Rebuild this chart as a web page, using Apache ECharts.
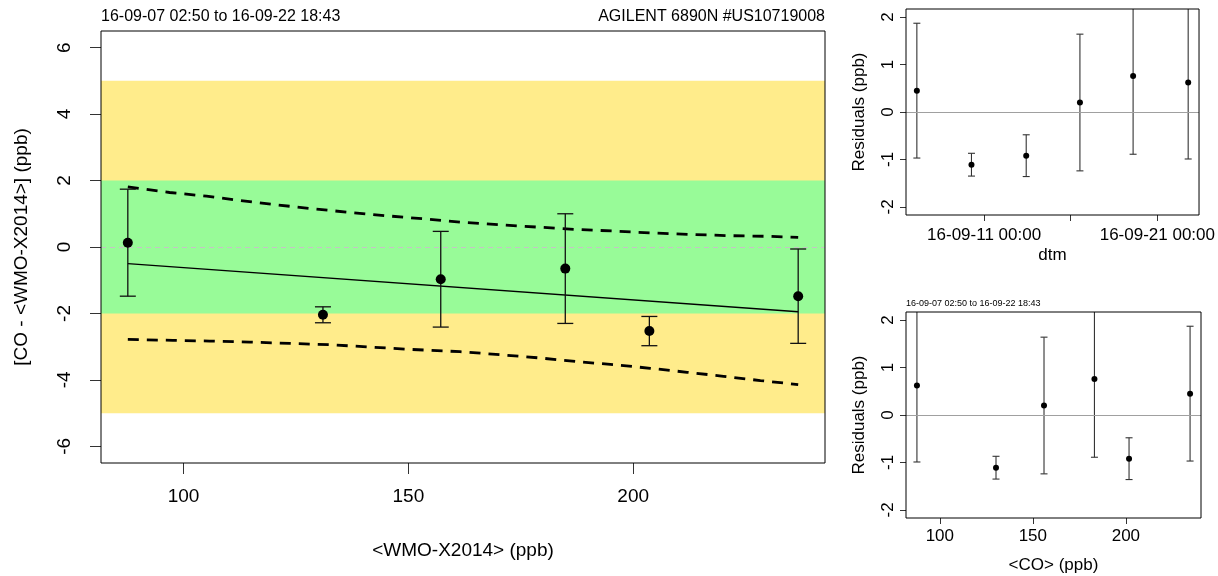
<!DOCTYPE html>
<html>
<head>
<meta charset="utf-8">
<script src="https://cdn.jsdelivr.net/npm/echarts@6/dist/echarts.min.js"></script>
<style>
  html, body { margin: 0; padding: 0; background: #fff; }
  #chart { width: 1218px; height: 576px; }
</style>
</head>
<body>
<div id="chart"></div>
<script>
// Samples, ordered by the WMO-X2014 reference value
const wmoValues    = [87.6, 131.0, 157.2, 184.9, 203.6, 236.7];
const coValues     = [87.7, 130.2, 156.0, 183.1, 201.7, 234.5];
const coMinusWmo   = [0.13, -2.04, -0.97, -0.65, -2.53, -1.48];
const uncertainty  = [1.61, 0.24, 1.44, 1.65, 0.44, 1.42];
const residuals    = [0.62, -1.11, 0.20, 0.76, -0.92, 0.45];
const sampleTimes  = ['2016-09-22 18:43', '2016-09-10 06:30', '2016-09-16 12:45',
                      '2016-09-19 14:25', '2016-09-13 10:20', '2016-09-07 02:50'];

// Fitted line (end points)
const fitX = [87.6, 236.7];
const fitY = [-0.50, -1.95];

// Upper / lower dashed bands around the fit
const upperBandX = [87.6, 96.9, 105.1, 112.5, 120.6, 128.8, 137.0, 145.1, 153.3, 161.5,
                    170.4, 178.6, 187.1, 195.6, 204.5, 212.7, 221.6, 230.5, 236.7];
const upperBandY = [1.81, 1.64, 1.53, 1.40, 1.27, 1.15, 1.04, 0.94, 0.85, 0.75,
                    0.67, 0.60, 0.53, 0.48, 0.42, 0.38, 0.34, 0.32, 0.29];
const lowerBandX = [87.6, 97.6, 105.8, 114.7, 123.6, 132.5, 141.4, 150.3, 161.5,
                    170.4, 179.3, 187.5, 195.6, 203.8, 212.0, 220.1, 228.3, 236.7];
const lowerBandY = [-2.78, -2.81, -2.83, -2.86, -2.90, -2.94, -3.01, -3.08, -3.15,
                    -3.24, -3.34, -3.45, -3.54, -3.65, -3.77, -3.89, -4.02, -4.14];

// Tolerance zones
const outerZone = [-5, 5];
const innerZone = [-2, 2];

// Tick positions
const mainXTicks = [100, 150, 200];
const mainYTicks = [-6, -4, -2, 0, 2, 4, 6];
const residualTicks = [-2, -1, 0, 1, 2];
const coTicks = [100, 150, 200];
const dateTicks = ['2016-09-11 00:00', '2016-09-16 00:00', '2016-09-21 00:00'];
const dateTickLabels = ['2016-09-11 00:00', '2016-09-21 00:00'];

const instrumentName = 'AGILENT 6890N #US10719008';

// ---------------------------------------------------------------------------
const FONT = '"Liberation Sans", Arial, Helvetica, sans-serif';

function toUTC(s) {
  const [d, t] = s.split(' ');
  const [Y, M, D] = d.split('-').map(Number);
  const [h, m] = t.split(':').map(Number);
  return Date.UTC(Y, M - 1, D, h, m);
}
function fmtDate(ms) {
  const d = new Date(ms);
  const p = n => String(n).padStart(2, '0');
  return p(d.getUTCFullYear() % 100) + '-' + p(d.getUTCMonth() + 1) + '-' + p(d.getUTCDate()) +
         ' ' + p(d.getUTCHours()) + ':' + p(d.getUTCMinutes());
}
// axis range with 4% padding on each side
function padRange(arr) {
  const lo = Math.min(...arr), hi = Math.max(...arr), r = hi - lo;
  return [lo - 0.04 * r, hi + 0.04 * r];
}

const times = sampleTimes.map(toUTC);
const periodText = fmtDate(Math.min(...times)) + ' to ' + fmtDate(Math.max(...times));

const wmoRange = padRange(wmoValues);
const coRange = padRange(coValues);
const timeRange = padRange(times);

const zip = (a, b) => a.map((v, i) => [v, b[i]]);
const bars = (xs, ys) => xs.map((x, i) => [x, ys[i] - uncertainty[i], ys[i] + uncertainty[i]]);

function errorBarRenderer(capHalf, color, width) {
  return function (params, api) {
    const x = api.value(0), lo = api.value(1), hi = api.value(2);
    const a = api.coord([x, lo]);
    const b = api.coord([x, hi]);
    const style = { stroke: color, lineWidth: width, fill: null };
    return {
      type: 'group',
      children: [
        { type: 'line', shape: { x1: a[0], y1: a[1], x2: b[0], y2: b[1] }, style },
        { type: 'line', shape: { x1: a[0] - capHalf, y1: a[1], x2: a[0] + capHalf, y2: a[1] }, style },
        { type: 'line', shape: { x1: b[0] - capHalf, y1: b[1], x2: b[0] + capHalf, y2: b[1] }, style }
      ]
    };
  };
}

const tickStyle = { color: '#333', width: 1 };
const labelBase = { color: '#000', fontFamily: FONT };

const option = {
  animation: false,
  backgroundColor: '#fff',
  title: [
    { text: periodText, left: 101, top: 9, padding: 0,
      textStyle: { fontSize: 16, fontWeight: 'normal', color: '#000', fontFamily: FONT } },
    { text: instrumentName, right: 393, top: 9, padding: 0,
      textStyle: { fontSize: 16, fontWeight: 'normal', color: '#000', fontFamily: FONT } },
    { text: periodText, left: 906, top: 299, padding: 0,
      textStyle: { fontSize: 9, fontWeight: 'normal', color: '#000', fontFamily: FONT } }
  ],
  grid: [
    { left: 101, top: 31, width: 724, height: 432, show: true, z: 10,
      backgroundColor: 'transparent', borderColor: '#000', borderWidth: 1 },
    { left: 906, top: 9, width: 295, height: 206, show: true, z: 10,
      backgroundColor: 'transparent', borderColor: '#000', borderWidth: 1 },
    { left: 906, top: 312, width: 295, height: 206, show: true, z: 10,
      backgroundColor: 'transparent', borderColor: '#000', borderWidth: 1 }
  ],
  xAxis: [
    { gridIndex: 0, type: 'value', min: wmoRange[0], max: wmoRange[1],
      axisLine: { show: false, onZero: false }, splitLine: { show: false },
      axisTick: { show: true, length: 11, customValues: mainXTicks, lineStyle: tickStyle },
      axisLabel: { ...labelBase, customValues: mainXTicks, fontSize: 19, margin: 24 },
      name: '<WMO-X2014> (ppb)', nameLocation: 'middle', nameGap: 78,
      nameTextStyle: { ...labelBase, fontSize: 19 } },
    { gridIndex: 1, type: 'value', min: timeRange[0], max: timeRange[1],
      axisLine: { show: false, onZero: false }, splitLine: { show: false },
      axisTick: { show: true, length: 6, customValues: dateTicks.map(toUTC), lineStyle: tickStyle },
      axisLabel: { ...labelBase, customValues: dateTickLabels.map(toUTC), fontSize: 17, margin: 12,
                   formatter: v => fmtDate(v) },
      name: 'dtm', nameLocation: 'middle', nameGap: 32,
      nameTextStyle: { ...labelBase, fontSize: 17 } },
    { gridIndex: 2, type: 'value', min: coRange[0], max: coRange[1],
      axisLine: { show: false, onZero: false }, splitLine: { show: false },
      axisTick: { show: true, length: 6, customValues: coTicks, lineStyle: tickStyle },
      axisLabel: { ...labelBase, customValues: coTicks, fontSize: 17, margin: 10 },
      name: '<CO> (ppb)', nameLocation: 'middle', nameGap: 39,
      nameTextStyle: { ...labelBase, fontSize: 17 } }
  ],
  yAxis: [
    { gridIndex: 0, type: 'value', min: -6.5, max: 6.5,
      axisLine: { show: false, onZero: false }, splitLine: { show: false },
      axisTick: { show: true, length: 11, customValues: mainYTicks, lineStyle: tickStyle },
      axisLabel: { ...labelBase, customValues: mainYTicks, fontSize: 19, margin: 27, rotate: 90 },
      name: '[CO - <WMO-X2014>] (ppb)', nameLocation: 'middle', nameGap: 70,
      nameTextStyle: { ...labelBase, fontSize: 19 } },
    { gridIndex: 1, type: 'value', min: -2.17, max: 2.17,
      axisLine: { show: false, onZero: false }, splitLine: { show: false },
      axisTick: { show: true, length: 6, customValues: residualTicks, lineStyle: tickStyle },
      axisLabel: { ...labelBase, customValues: residualTicks, fontSize: 17, margin: 9, rotate: 90 },
      name: 'Residuals (ppb)', nameLocation: 'middle', nameGap: 38,
      nameTextStyle: { ...labelBase, fontSize: 17 } },
    { gridIndex: 2, type: 'value', min: -2.17, max: 2.17,
      axisLine: { show: false, onZero: false }, splitLine: { show: false },
      axisTick: { show: true, length: 6, customValues: residualTicks, lineStyle: tickStyle },
      axisLabel: { ...labelBase, customValues: residualTicks, fontSize: 17, margin: 9, rotate: 90 },
      name: 'Residuals (ppb)', nameLocation: 'middle', nameGap: 38,
      nameTextStyle: { ...labelBase, fontSize: 17 } }
  ],
  series: [
    // tolerance zones
    { type: 'line', xAxisIndex: 0, yAxisIndex: 0, z: 1, silent: true,
      data: zip(fitX, fitY), symbol: 'none', lineStyle: { width: 0, opacity: 0 },
      markArea: { silent: true, data: [
        [{ yAxis: outerZone[0], itemStyle: { color: '#FFEC8B' } }, { yAxis: outerZone[1] }],
        [{ yAxis: innerZone[0], itemStyle: { color: '#98FB98' } }, { yAxis: innerZone[1] }]
      ] } },
    // faint zero reference
    { type: 'line', xAxisIndex: 0, yAxisIndex: 0, z: 2, silent: true, data: [],
      markLine: { silent: true, symbol: 'none', label: { show: false }, z: 2,
        lineStyle: { color: '#c4c4c4', type: [5, 4], width: 1 },
        data: [{ yAxis: 0 }] } },
    // fitted line
    { type: 'line', xAxisIndex: 0, yAxisIndex: 0, z: 3, silent: true,
      data: zip(fitX, fitY), symbol: 'none', lineStyle: { color: '#000', width: 1.4 } },
    { type: 'line', xAxisIndex: 0, yAxisIndex: 0, z: 3, silent: true,
      data: zip(upperBandX, upperBandY), symbol: 'none',
      lineStyle: { color: '#000', width: 2.8, type: [11, 8] } },
    { type: 'line', xAxisIndex: 0, yAxisIndex: 0, z: 3, silent: true,
      data: zip(lowerBandX, lowerBandY), symbol: 'none',
      lineStyle: { color: '#000', width: 2.8, type: [11, 8] } },
    { type: 'custom', xAxisIndex: 0, yAxisIndex: 0, z: 4, clip: true,
      data: bars(wmoValues, coMinusWmo), encode: { x: 0, y: [1, 2] },
      renderItem: errorBarRenderer(8, '#111', 1.3) },
    { type: 'scatter', xAxisIndex: 0, yAxisIndex: 0, z: 5,
      data: zip(wmoValues, coMinusWmo), symbol: 'circle', symbolSize: 10,
      itemStyle: { color: '#000', opacity: 1 } },

    // residuals vs time
    { type: 'line', xAxisIndex: 1, yAxisIndex: 1, z: 2, silent: true, data: [],
      markLine: { silent: true, symbol: 'none', label: { show: false },
        lineStyle: { color: '#a0a0a0', type: 'solid', width: 1 }, data: [{ yAxis: 0 }] } },
    { type: 'custom', xAxisIndex: 1, yAxisIndex: 1, z: 4, clip: true,
      data: bars(times, residuals), encode: { x: 0, y: [1, 2] },
      renderItem: errorBarRenderer(3.5, '#333', 1.1) },
    { type: 'scatter', xAxisIndex: 1, yAxisIndex: 1, z: 5,
      data: zip(times, residuals), symbol: 'circle', symbolSize: 6,
      itemStyle: { color: '#000', opacity: 1 } },

    // residuals vs CO
    { type: 'line', xAxisIndex: 2, yAxisIndex: 2, z: 2, silent: true, data: [],
      markLine: { silent: true, symbol: 'none', label: { show: false },
        lineStyle: { color: '#a0a0a0', type: 'solid', width: 1 }, data: [{ yAxis: 0 }] } },
    { type: 'custom', xAxisIndex: 2, yAxisIndex: 2, z: 4, clip: true,
      data: bars(coValues, residuals), encode: { x: 0, y: [1, 2] },
      renderItem: errorBarRenderer(3.5, '#333', 1.1) },
    { type: 'scatter', xAxisIndex: 2, yAxisIndex: 2, z: 5,
      data: zip(coValues, residuals), symbol: 'circle', symbolSize: 6,
      itemStyle: { color: '#000', opacity: 1 } }
  ]
};

const chart = echarts.init(document.getElementById('chart'), null, { renderer: 'canvas' });
chart.setOption(option);
</script>
</body>
</html>
